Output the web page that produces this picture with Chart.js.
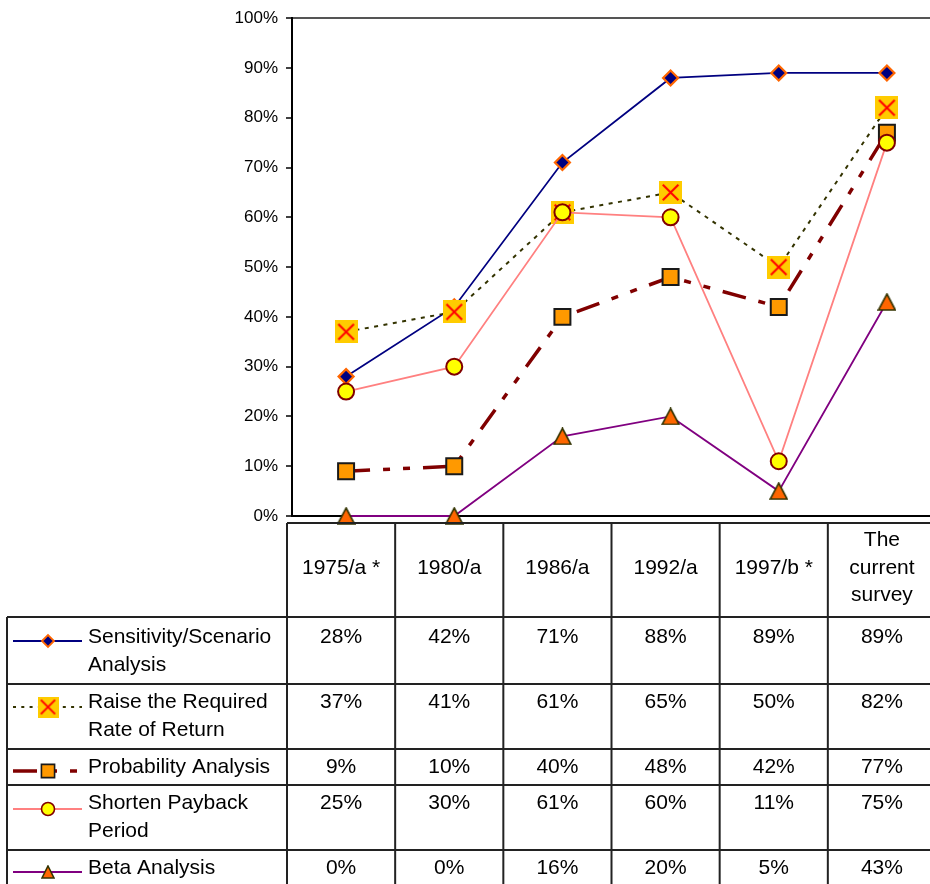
<!DOCTYPE html>
<html>
<head>
<meta charset="utf-8">
<script src="https://cdn.jsdelivr.net/npm/chart.js@4.4.1/dist/chart.umd.min.js"></script>
<style>
  html, body { margin: 0; padding: 0; overflow: hidden; background: #fff; }
  #wrap { position: relative; width: 930px; height: 884px; overflow: hidden; }
  #c { position: absolute; left: 0; top: 0; width: 945px; height: 884px; }
</style>
</head>
<body>
<div id="wrap"><canvas id="c" width="945" height="884"></canvas></div>
<script>
// Survey years (column headers of the data table)
const years = [['1975/a *'], ['1980/a'], ['1986/a'], ['1992/a'], ['1997/b *'], ['The', 'current', 'survey']];

// Share of firms using each risk-adjustment technique (%)
const sensitivity = [28, 42, 71, 88, 89, 89];
const raiseRate   = [37, 41, 61, 65, 50, 82];
const probability = [9, 10, 40, 48, 42, 77];
const payback     = [25, 30, 61, 60, 11, 75];
const beta        = [0, 0, 16, 20, 5, 43];

const seriesNames = [
  ['Sensitivity/Scenario', 'Analysis'],
  ['Raise the Required', 'Rate of Return'],
  ['Probability Analysis'],
  ['Shorten Payback', 'Period'],
  ['Beta Analysis']
];

const FONT = "'Liberation Sans', Arial, Helvetica, sans-serif";

// Marker: gold square with a red cross
function crossMarker(size) {
  const c = document.createElement('canvas');
  c.width = size; c.height = size;
  const g = c.getContext('2d');
  g.fillStyle = '#FFCC00';
  g.fillRect(0, 0, size, size);
  const m = size * 0.16;
  g.strokeStyle = '#FF0000';
  g.lineWidth = 2;
  g.beginPath();
  g.moveTo(m, m); g.lineTo(size - m, size - m);
  g.moveTo(size - m, m); g.lineTo(m, size - m);
  g.stroke();
  return c;
}

// Marker: orange triangle centred on its bounding box
function triangleMarker(w, h) {
  const c = document.createElement('canvas');
  c.width = w; c.height = h;
  const g = c.getContext('2d');
  g.fillStyle = '#FF6600';
  g.strokeStyle = '#333300';
  g.lineWidth = 1.6;
  g.beginPath();
  g.moveTo(w / 2, 1);
  g.lineTo(w - 1, h - 1);
  g.lineTo(1, h - 1);
  g.closePath();
  g.fill();
  g.stroke();
  return c;
}

const styles = [
  { line: '#000080', width: 1.8, dash: [], point: 'rectRot', radius: 7.5, fill: '#000080', border: '#FF6600', bw: 2.2,
    legend: { point: 'rectRot', radius: 6, bw: 1.8 } },
  { line: '#333300', width: 2, dash: [4, 5.5], point: crossMarker(23), radius: 12, fill: '#FFCC00', border: '#FFCC00', bw: 0,
    legend: { point: crossMarker(21), radius: 11, bw: 0 }, legendDash: [3, 5.3] },
  { line: '#800000', width: 3.5, dash: [24, 13, 7, 13, 7, 13], point: 'rect', radius: 11.3, fill: '#FF9900', border: '#1a1a1a', bw: 2,
    legend: { point: 'rect', radius: 9.3, bw: 1.6 } },
  { line: '#FF8080', width: 1.8, dash: [], point: 'circle', radius: 8, fill: '#FFFF00', border: '#800000', bw: 2,
    legend: { point: 'circle', radius: 6.5, bw: 1.6 } },
  { line: '#800080', width: 1.8, dash: [], point: triangleMarker(19, 18), radius: 10, fill: '#FF6600', border: '#333300', bw: 0,
    legend: { point: triangleMarker(14, 14), radius: 7, bw: 0 } }
];

const seriesData = [sensitivity, raiseRate, probability, payback, beta];

const datasets = seriesData.map((d, i) => ({
  label: seriesNames[i].join(' '),
  data: d,
  borderColor: styles[i].line,
  borderWidth: styles[i].width,
  borderDash: styles[i].dash,
  borderCapStyle: 'butt',
  pointStyle: styles[i].point,
  pointRadius: styles[i].radius,
  pointHoverRadius: styles[i].radius,
  pointBackgroundColor: styles[i].fill,
  pointBorderColor: styles[i].border,
  pointBorderWidth: styles[i].bw,
  tension: 0,
  fill: false,
  clip: false,
  order: 5 - i
}));

// Data table beneath the plot, with a legend column on the left
const tablePlugin = {
  id: 'dataTable',
  afterDraw(chart) {
    const ctx = chart.ctx;
    const xs = chart.scales.x;
    const colW = (xs.right - xs.left) / years.length;
    const tLeft = xs.left - 5, legendLeft = 7;
    const headerTop = 523;
    const rowLines = [617, 684, 749, 785, 850];
    const rowText = [637, 702, 767, 803, 868];
    const symY = [641, 707, 771, 809, 872];
    const W = chart.width, H = chart.height;

    ctx.save();
    ctx.strokeStyle = '#222';
    ctx.lineWidth = 2;
    ctx.setLineDash([]);
    ctx.beginPath();
    ctx.moveTo(tLeft, headerTop); ctx.lineTo(W, headerTop);
    rowLines.forEach(y => { ctx.moveTo(legendLeft, y); ctx.lineTo(W, y); });
    ctx.moveTo(legendLeft, rowLines[0]); ctx.lineTo(legendLeft, H);
    for (let k = 0; k < years.length; k++) {
      const x = tLeft + k * colW;
      ctx.moveTo(x, headerTop); ctx.lineTo(x, H);
    }
    ctx.stroke();

    ctx.fillStyle = '#000';
    ctx.font = '21px ' + FONT;
    ctx.textBaseline = 'middle';
    ctx.textAlign = 'center';
    // headers
    years.forEach((lines, k) => {
      const cx = tLeft + (k + 0.5) * colW;
      const lh = 27.5;
      const y0 = 568 - (lines.length - 1) * lh / 2;
      lines.forEach((t, j) => ctx.fillText(t, cx, y0 + j * lh));
    });
    // values
    seriesData.forEach((d, r) => {
      d.forEach((v, k) => {
        const cx = tLeft + (k + 0.5) * colW;
        ctx.fillText(v + '%', cx, rowText[r]);
      });
    });
    // legend
    ctx.textAlign = 'left';
    seriesNames.forEach((lines, r) => {
      lines.forEach((t, j) => ctx.fillText(t, 88, rowText[r] + j * 28.5));
      const s = styles[r];
      const y = symY[r];
      ctx.save();
      ctx.strokeStyle = s.line;
      ctx.lineWidth = s.width;
      ctx.lineCap = 'butt';
      ctx.setLineDash(s.legendDash || s.dash);
      ctx.beginPath();
      ctx.moveTo(13, y); ctx.lineTo(82, y);
      ctx.stroke();
      ctx.setLineDash([]);
      ctx.fillStyle = s.fill;
      ctx.strokeStyle = s.border;
      ctx.lineWidth = s.legend.bw;
      Chart.helpers.drawPoint(ctx, { pointStyle: s.legend.point, radius: s.legend.radius, borderWidth: s.legend.bw, rotation: 0 }, 48, y);
      ctx.restore();
    });
    ctx.restore();
  }
};

new Chart(document.getElementById('c'), {
  type: 'line',
  data: { labels: years, datasets },
  options: {
    responsive: false,
    animation: false,
    devicePixelRatio: 1,
    events: [],
    layout: { autoPadding: false, padding: { top: 15, right: 4, bottom: 368, left: 0 } },
    plugins: { legend: { display: false }, tooltip: { enabled: false } },
    scales: {
      x: {
        type: 'category',
        offset: true,
        grid: { display: false },
        ticks: { display: false },
        border: { display: true, color: '#000', width: 2 },
        afterFit(scale) { scale.height = 0; scale.paddingLeft = 0; scale.paddingRight = 0; }
      },
      y: {
        min: 0,
        max: 100,
        ticks: {
          stepSize: 10,
          color: '#000',
          padding: 8,
          font: { family: FONT, size: 17 },
          callback: v => v + '%'
        },
        grid: {
          drawOnChartArea: true,
          drawTicks: true,
          tickLength: 6,
          lineWidth: 2,
          color: c => (c.tick && c.tick.value === 100) ? '#555' : 'rgba(0,0,0,0)',
          tickColor: '#000',
          tickWidth: 1.5
        },
        border: { display: true, color: '#000', width: 2 },
        afterFit(scale) { scale.width = 292; }
      }
    }
  },
  plugins: [tablePlugin]
});
</script>
</body>
</html>
